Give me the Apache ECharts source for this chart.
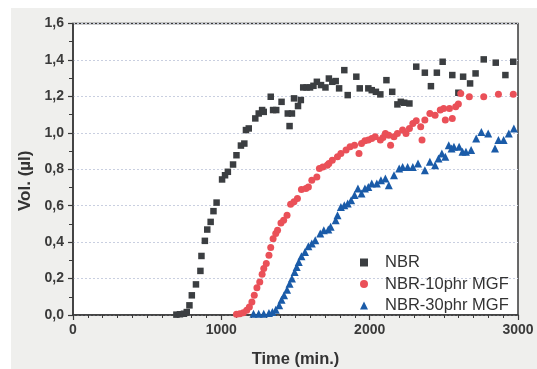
<!DOCTYPE html>
<html><head><meta charset="utf-8">
<script src="https://cdn.jsdelivr.net/npm/echarts@6/dist/echarts.min.js"></script>
<style>html,body{margin:0;padding:0;background:#fff}#c{width:537px;height:369px}</style>
</head><body><div id="c"></div>
<script>
const xTicks = [0, 1000, 2000, 3000];
const yTicks = [0, 0.2, 0.4, 0.6, 0.8, 1.0, 1.2, 1.4, 1.6];
const seriesNames = ['NBR', 'NBR-10phr MGF', 'NBR-30phr MGF'];

const nbrX = [697,721,748,767,785,801,829,859,866,889,905,928,947,968,1005,1025,1044,1079,1102,1132,1155,1166,1185,1229,1252,1275,1286,1333,1349,1370,1406,1448,1460,1476,1490,1517,1536,1552,1575,1598,1621,1644,1672,1702,1725,1748,1771,1794,1829,1852,1910,1933,1991,2014,2042,2072,2113,2152,2187,2210,2233,2268,2314,2372,2413,2453,2492,2557,2598,2630,2677,2714,2769,2850,2915,2968];
const nbrY = [0.002,0.004,0.007,0.016,0.053,0.108,0.168,0.242,0.324,0.407,0.469,0.511,0.570,0.617,0.744,0.767,0.786,0.826,0.877,0.930,0.941,1.015,1.024,1.079,1.106,1.125,1.115,1.198,1.125,1.125,1.170,1.106,1.037,1.106,1.189,1.147,1.180,1.249,1.249,1.249,1.258,1.280,1.262,1.249,1.298,1.280,1.284,1.244,1.344,1.207,1.308,1.244,1.244,1.234,1.225,1.211,1.289,1.225,1.156,1.170,1.165,1.161,1.363,1.330,1.256,1.330,1.390,1.317,1.220,1.308,1.271,1.326,1.403,1.385,1.317,1.390];

const mgf10X = [1102,1125,1148,1171,1189,1206,1222,1240,1259,1275,1286,1303,1321,1333,1349,1367,1379,1402,1420,1443,1467,1490,1513,1540,1570,1587,1610,1644,1661,1684,1714,1725,1748,1783,1806,1841,1868,1898,1928,1945,1968,1991,2014,2037,2072,2090,2106,2129,2141,2164,2187,2222,2245,2268,2291,2314,2344,2353,2372,2406,2441,2476,2499,2510,2538,2557,2580,2598,2614,2672,2769,2868,2968];
const mgf10Y = [0.004,0.007,0.013,0.026,0.044,0.071,0.108,0.150,0.181,0.223,0.255,0.282,0.328,0.370,0.419,0.447,0.465,0.505,0.520,0.548,0.608,0.621,0.639,0.689,0.694,0.703,0.740,0.758,0.804,0.813,0.822,0.832,0.850,0.868,0.886,0.905,0.923,0.932,0.886,0.941,0.956,0.960,0.969,0.978,0.960,0.974,0.996,0.987,0.932,0.978,0.996,1.015,0.996,1.024,1.051,1.066,1.033,0.960,1.070,1.106,1.097,1.125,1.134,1.070,1.134,1.079,1.143,1.158,1.216,1.198,1.198,1.212,1.212];

const mgf30X = [1217,1252,1286,1321,1344,1367,1390,1406,1423,1443,1460,1476,1494,1508,1522,1540,1564,1587,1610,1633,1667,1691,1721,1737,1771,1783,1806,1829,1852,1875,1898,1921,1945,1968,1991,2014,2048,2076,2106,2129,2164,2199,2222,2256,2291,2326,2372,2406,2441,2464,2487,2510,2533,2552,2568,2603,2626,2649,2684,2718,2753,2799,2845,2868,2903,2938,2972];
const mgf30Y = [0.007,0.007,0.007,0.011,0.016,0.029,0.053,0.084,0.108,0.139,0.172,0.200,0.236,0.264,0.291,0.322,0.346,0.377,0.392,0.410,0.447,0.465,0.469,0.484,0.520,0.548,0.593,0.603,0.612,0.630,0.658,0.694,0.667,0.694,0.703,0.722,0.722,0.740,0.749,0.712,0.767,0.804,0.813,0.813,0.813,0.832,0.795,0.841,0.822,0.859,0.886,0.868,0.932,0.914,0.923,0.923,0.896,0.896,0.905,0.969,1.005,0.996,0.914,0.960,0.960,0.996,1.024];

const zip = (xs, ys) => xs.map((x, i) => [x, ys[i]]);
const colors = ['#3b3e41', '#ea5058', '#1a5ba8'];
const symbols = ['rect', 'circle', 'triangle'];
const sizes = [6.5, 7, 8];
const datas = [zip(nbrX, nbrY), zip(mgf10X, mgf10Y), zip(mgf30X, mgf30Y)];

const chart = echarts.init(document.getElementById('c'), null, {renderer: 'canvas'});
const font = 'Liberation Sans, Arial, sans-serif';
chart.setOption({
  animation: false,
  backgroundColor: '#ffffff',
  graphic: [{type: 'rect', z: -100, silent: true, shape: {x: 11, y: 8, width: 526, height: 361}, style: {fill: '#efefed'}}],
  grid: {left: 73, right: 19, top: 23.5, bottom: 54, show: true, backgroundColor: '#ffffff', borderColor: '#3a3a3a', borderWidth: 1.5, containLabel: false, outerBoundsMode: 'none'},
  xAxis: {
    type: 'value', min: xTicks[0], max: xTicks[xTicks.length - 1], interval: 1000,
    name: 'Time (min.)', nameLocation: 'middle', nameGap: 36,
    nameTextStyle: {fontFamily: font, fontWeight: 'bold', fontSize: 16.5, color: '#333'},
    axisLine: {show: true, lineStyle: {color: '#3a3a3a', width: 1.5}},
    axisTick: {show: true, inside: false, length: 5, lineStyle: {color: '#3a3a3a', width: 1.2}},
    minorTick: {show: true, splitNumber: 10, length: 3, lineStyle: {color: '#3a3a3a', width: 1}},
    axisLabel: {fontFamily: font, fontWeight: 'bold', fontSize: 14, color: '#3a3a3a', margin: 8, formatter: v => String(v)},
    splitLine: {show: false}
  },
  yAxis: {
    type: 'value', min: yTicks[0], max: yTicks[yTicks.length - 1], interval: 0.2,
    name: 'Vol. (µl)', nameLocation: 'middle', nameGap: 39, nameRotate: 90,
    nameTextStyle: {fontFamily: font, fontWeight: 'bold', fontSize: 17, color: '#333', padding: [0, 23, 0, 0]},
    axisLine: {show: true, lineStyle: {color: '#3a3a3a', width: 1.5}},
    axisTick: {show: true, inside: false, length: 5, lineStyle: {color: '#3a3a3a', width: 1.2}},
    minorTick: {show: true, splitNumber: 2, length: 4, lineStyle: {color: '#3a3a3a', width: 1}},
    axisLabel: {fontFamily: font, fontWeight: 'bold', fontSize: 14, color: '#3a3a3a', margin: 9, formatter: v => v.toFixed(1).replace('.', ',')},
    splitLine: {show: true, lineStyle: {color: '#c9cfe0', type: [2, 2], width: 1}}
  },
  legend: {
    orient: 'vertical', left: 355, top: 249, itemWidth: 8, itemHeight: 8, itemGap: 4.5,
    data: seriesNames,
    textStyle: {fontFamily: font, fontSize: 16.5, color: '#333', padding: [0, 0, 0, 12]}
  },
  series: seriesNames.map((n, i) => ({
    name: n, type: 'scatter', data: datas[i], symbol: symbols[i], symbolSize: sizes[i],
    itemStyle: {color: colors[i], opacity: 1}
  }))
});
</script></body></html>
